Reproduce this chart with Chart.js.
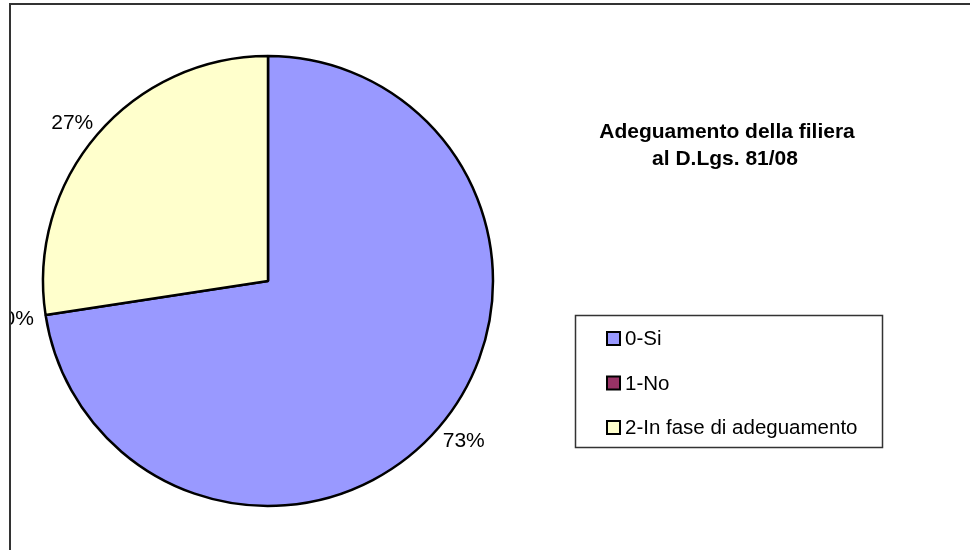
<!DOCTYPE html>
<html>
<head>
<meta charset="utf-8">
<script src="https://cdn.jsdelivr.net/npm/chart.js@4/dist/chart.umd.min.js"></script>
<style>
html,body{margin:0;padding:0;background:#fff;}
canvas{display:block;}
</style>
</head>
<body>
<canvas id="c" width="970" height="550"></canvas>
<script>
const categories = ['0-Si', '1-No', '2-In fase di adeguamento'];
const counts = [45, 0, 17];
const sliceColors = ['#9999FF', '#993366', '#FFFFCC'];
const titleLines = ['Adeguamento della filiera', 'al D.Lgs. 81/08'];

const FONT = '"Liberation Sans", Arial, sans-serif';

const decorPlugin = {
  id: 'decor',
  afterDraw(chart) {
    const ctx = chart.ctx;
    const meta = chart.getDatasetMeta(0);
    const data = chart.data.datasets[0].data;
    const total = data.reduce((a, b) => a + b, 0);

    // percentage labels
    ctx.save();
    ctx.beginPath();
    ctx.rect(11, 0, chart.width - 11, chart.height);
    ctx.clip();
    ctx.font = '21px ' + FONT;
    ctx.fillStyle = '#000';
    ctx.textAlign = 'center';
    ctx.textBaseline = 'middle';
    meta.data.forEach((arc, i) => {
      const p = arc.getProps(['x', 'y', 'startAngle', 'endAngle', 'outerRadius'], true);
      const mid = (p.startAngle + p.endAngle) / 2;
      const dx = Math.cos(mid), dy = Math.sin(mid);
      const txt = Math.round(data[i] / total * 100) + '%';
      const w = ctx.measureText(txt).width;
      const h = 15;
      const d = p.outerRadius + 12;
      const cx = p.x + dx * d + dx * w / 2;
      const cy = p.y + dy * d + dy * h / 2;
      ctx.fillText(txt, cx, cy + 1);
    });
    ctx.restore();

    // title
    ctx.save();
    ctx.font = 'bold 21px ' + FONT;
    ctx.fillStyle = '#000';
    ctx.textAlign = 'center';
    ctx.textBaseline = 'alphabetic';
    ctx.fillText(titleLines[0], 727, 138);
    ctx.fillText(titleLines[1], 725, 165);
    ctx.restore();

    // legend
    ctx.save();
    ctx.strokeStyle = '#333';
    ctx.lineWidth = 1.5;
    ctx.strokeRect(575.5, 315.5, 307, 132);
    ctx.font = '20.5px ' + FONT;
    ctx.textAlign = 'left';
    ctx.textBaseline = 'middle';
    categories.forEach((c, i) => {
      const y = 338.5 + i * 44.5;
      ctx.fillStyle = sliceColors[i];
      ctx.fillRect(607, y - 6.5, 13, 13);
      ctx.strokeStyle = '#000';
      ctx.lineWidth = 2;
      ctx.strokeRect(607, y - 6.5, 13, 13);
      ctx.fillStyle = '#000';
      ctx.fillText(c, 625, y + 1);
    });
    ctx.restore();

    // outer frame
    ctx.save();
    ctx.strokeStyle = '#333';
    ctx.lineWidth = 2;
    ctx.beginPath();
    ctx.moveTo(10, chart.height + 5);
    ctx.lineTo(10, 4);
    ctx.lineTo(chart.width + 5, 4);
    ctx.stroke();
    ctx.restore();
  }
};

new Chart(document.getElementById('c'), {
  type: 'pie',
  data: {
    labels: categories,
    datasets: [{
      data: counts,
      backgroundColor: sliceColors,
      borderColor: '#000',
      borderWidth: 2.5,
      hoverOffset: 0,
      offset: 0
    }]
  },
  options: {
    responsive: false,
    animation: false,
    radius: 225,
    layout: { padding: { left: 42, top: 55, right: 476, bottom: 43 } },
    plugins: {
      legend: { display: false },
      title: { display: false },
      tooltip: { enabled: false }
    },
    events: []
  },
  plugins: [decorPlugin]
});
</script>
</body>
</html>
